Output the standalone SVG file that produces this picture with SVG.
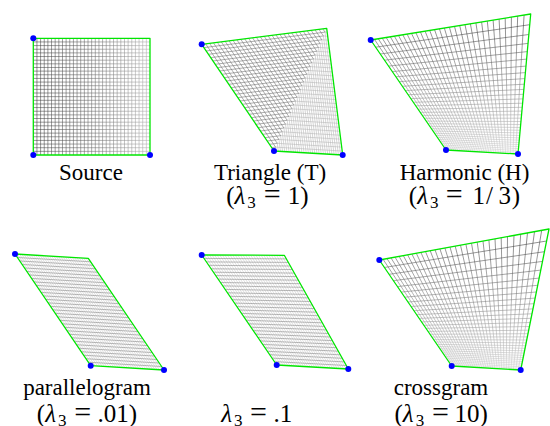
<svg xmlns="http://www.w3.org/2000/svg" xmlns:xlink="http://www.w3.org/1999/xlink" width="550" height="426" viewBox="0 0 550 426">
<style>
.g{fill:none;stroke-width:0.55;vector-effect:non-scaling-stroke}
.edge{fill:none;stroke:#00e600;stroke-width:1.3;stroke-linejoin:round}
.dot{fill:#0000ff}
.lbl{font-size:23px;fill:#000;text-anchor:middle}
.m{font-size:25px;fill:#000;text-anchor:start}
.i{font-style:italic}
.sub{font-size:17px}
.eq{font-size:30px}
</style>
<defs>
<path id="ugU" class="g" d="M1 0V32M2 0V32M3 0V32M4 0V32M5 0V32M6 0V32M7 0V32M8 0V32M9 0V32M10 0V32M11 0V32M12 0V32M13 0V32M14 0V32M15 0V32M16 0V32M17 0V32M18 0V32M19 0V32M20 0V32M21 0V32M22 0V32M23 0V32M24 0V32M25 0V32M26 0V32M27 0V32M28 0V32M29 0V32M30 0V32M31 0V32"/>
<path id="ugV" class="g" d="M0 1H32M0 2H32M0 3H32M0 4H32M0 5H32M0 6H32M0 7H32M0 8H32M0 9H32M0 10H32M0 11H32M0 12H32M0 13H32M0 14H32M0 15H32M0 16H32M0 17H32M0 18H32M0 19H32M0 20H32M0 21H32M0 22H32M0 23H32M0 24H32M0 25H32M0 26H32M0 27H32M0 28H32M0 29H32M0 30H32M0 31H32"/>
<linearGradient id="gSrc" gradientUnits="userSpaceOnUse" x1="0" y1="0" x2="32" y2="0"><stop offset="0" stop-color="#3a3a3a"/><stop offset="0.5" stop-color="#666"/><stop offset="1" stop-color="#b0b0b0"/></linearGradient>
<linearGradient id="gH" gradientUnits="userSpaceOnUse" x1="0" y1="152" x2="0" y2="18"><stop offset="0" stop-color="#d0d0d0"/><stop offset="0.35" stop-color="#999"/><stop offset="1" stop-color="#2a2a2a"/></linearGradient>
<linearGradient id="gC" gradientUnits="userSpaceOnUse" x1="0" y1="368" x2="0" y2="232"><stop offset="0" stop-color="#d0d0d0"/><stop offset="0.35" stop-color="#999"/><stop offset="1" stop-color="#2a2a2a"/></linearGradient>
<clipPath id="t1"><polygon points="274,151 342.7,155 326.7,28.3"/></clipPath>
<clipPath id="t2"><polygon points="274,151 326.7,28.3 201.7,44.3"/></clipPath>
</defs>

<g font-family="'Liberation Serif', Tinos, 'Times New Roman', Times, 'DejaVu Serif', serif">

<g id="source">
<use href="#ugU" xlink:href="#ugU" stroke="url(#gSrc)" transform="matrix(116.7 0 0 -116.7 33.3 155) scale(0.03125)"/>
<use href="#ugV" xlink:href="#ugV" stroke="url(#gSrc)" transform="matrix(116.7 0 0 -116.7 33.3 155) scale(0.03125)"/>
<polygon class="edge" points="33.3,155 150,155 150,38.3 33.3,38.3"/>
<circle class="dot" cx="33.3" cy="38.3" r="3"/><circle class="dot" cx="33.3" cy="155" r="3"/><circle class="dot" cx="150" cy="155" r="3"/>
<text class="lbl" x="91" y="179.5">Source</text>
</g>

<g id="triangle">
<g clip-path="url(#t1)" stroke="#b4b4b4">
<use href="#ugU" xlink:href="#ugU" transform="matrix(68.7 4 -16 -126.7 274 151) scale(0.03125)"/>
<use href="#ugV" xlink:href="#ugV" transform="matrix(68.7 4 -16 -126.7 274 151) scale(0.03125)"/>
</g>
<g clip-path="url(#t2)" stroke="#6a6a6a">
<use href="#ugU" xlink:href="#ugU" transform="matrix(125 -16 -72.3 -106.7 274 151) scale(0.03125)"/>
<use href="#ugV" xlink:href="#ugV" transform="matrix(125 -16 -72.3 -106.7 274 151) scale(0.03125)"/>
</g>
<polygon class="edge" points="274,151 342.7,155 326.7,28.3 201.7,44.3"/>
<circle class="dot" cx="201.7" cy="44.3" r="3"/><circle class="dot" cx="274" cy="151" r="3"/><circle class="dot" cx="342.7" cy="155" r="3"/>
<text class="lbl" x="270" y="179.5">Triangle (T)</text>
<text class="m" x="226.2" y="204">(<tspan class="i">λ</tspan><tspan class="sub" dx="2" dy="4">3</tspan><tspan class="eq" x="263.7" dy="-4">=</tspan><tspan x="287.7">1)</tspan></text>
</g>

<g id="harmonic">
<path class="g" stroke="url(#gH)" d="M448.0 150.1L374.5 39.4M450.0 150.2L378.3 38.8M452.0 150.3L382.2 38.1M454.1 150.4L386.2 37.5M456.2 150.6L390.3 36.8M458.2 150.7L394.4 36.2M460.3 150.8L398.5 35.5M462.4 150.9L402.8 34.8M464.5 151.0L407.1 34.1M466.7 151.1L411.5 33.4M468.8 151.3L415.9 32.7M471.0 151.4L420.4 31.9M473.2 151.5L425.1 31.2M475.4 151.6L429.7 30.4M477.6 151.8L434.5 29.6M479.8 151.9L439.4 28.8M482.1 152.0L444.3 28.0M484.3 152.1L449.4 27.2M486.6 152.3L454.5 26.4M488.9 152.4L459.7 25.5M491.3 152.5L465.0 24.7M493.6 152.6L470.4 23.8M495.9 152.8L475.9 22.9M498.3 152.9L481.6 22.0M500.7 153.0L487.3 21.1M503.1 153.2L493.1 20.1M505.6 153.3L499.1 19.1M508.0 153.4L505.2 18.2M510.5 153.6L511.4 17.1M513.0 153.7L517.7 16.1M515.5 153.9L524.1 15.1M444.9 148.4L518.2 152.3M443.8 146.7L518.3 150.5M442.6 145.0L518.5 148.6M441.4 143.2L518.7 146.6M440.1 141.4L518.9 144.6M438.8 139.5L519.1 142.5M437.4 137.5L519.3 140.2M436.0 135.4L519.5 137.9M434.5 133.3L519.7 135.5M433.0 131.0L519.9 132.9M431.4 128.7L520.2 130.3M429.7 126.3L520.4 127.5M428.0 123.7L520.7 124.5M426.2 121.1L521.0 121.5M424.3 118.3L521.3 118.2M422.3 115.4L521.6 114.8M420.2 112.4L521.9 111.1M418.1 109.2L522.2 107.3M415.8 105.8L522.6 103.2M413.4 102.3L523.0 98.9M410.8 98.6L523.4 94.3M408.2 94.7L523.9 89.4M405.4 90.6L524.3 84.2M402.4 86.3L524.8 78.6M399.2 81.7L525.4 72.6M395.9 76.8L526.0 66.1M392.3 71.6L526.6 59.1M388.6 66.1L527.3 51.6M384.5 60.2L528.0 43.4M380.2 54.0L528.8 34.5M375.6 47.2L529.7 24.7"/>
<polygon class="edge" points="446,150 518,154 530.7,14 370.7,40"/>
<circle class="dot" cx="370.7" cy="40" r="3"/><circle class="dot" cx="446" cy="150" r="3"/><circle class="dot" cx="518" cy="154" r="3"/>
<text class="lbl" x="464.5" y="179.5">Harmonic (H)</text>
<text class="m" x="408.8" y="204">(<tspan class="i">λ</tspan><tspan class="sub" dx="2" dy="4">3</tspan><tspan class="eq" x="445.8" dy="-4">=</tspan><tspan x="472.5">1</tspan><tspan x="486">/</tspan><tspan x="498.5">3</tspan><tspan x="511.7">)</tspan></text>
</g>

<g id="parallelogram">
<use href="#ugU" xlink:href="#ugU" stroke="#c8c8c8" transform="matrix(73.3 4.3 -75.7 -111.7 90.7 365.7) scale(0.03125)"/>
<use href="#ugV" xlink:href="#ugV" stroke="#808080" transform="matrix(73.3 4.3 -75.7 -111.7 90.7 365.7) scale(0.03125)"/>
<polygon class="edge" points="90.7,365.7 164,370 88.3,258.3 15,254"/>
<circle class="dot" cx="15" cy="254" r="3"/><circle class="dot" cx="90.7" cy="365.7" r="3"/><circle class="dot" cx="164" cy="370" r="3"/>
<text class="lbl" x="87" y="394.5">parallelogram</text>
<text class="m" x="36.8" y="421.5">(<tspan class="i">λ</tspan><tspan class="sub" dx="2" dy="4">3</tspan><tspan class="eq" x="74.3" dy="-4">=</tspan><tspan x="97.5">.01)</tspan></text>
</g>

<g id="lambda01">
<path class="g" stroke="#c8c8c8" d="M278.9 365.1L204.3 255.0M281.2 365.3L206.9 255.0M283.4 365.4L209.4 255.0M285.7 365.5L212.0 255.0M287.9 365.6L214.6 255.0M290.1 365.8L217.2 255.1M292.4 365.9L219.8 255.1M294.6 366.0L222.4 255.1M296.8 366.1L224.9 255.1M299.1 366.3L227.5 255.1M301.3 366.4L230.1 255.1M303.6 366.5L232.7 255.1M305.8 366.6L235.3 255.1M308.0 366.8L237.8 255.1M310.3 366.9L240.4 255.1M312.5 367.0L243.0 255.2M314.7 367.1L245.6 255.2M317.0 367.3L248.2 255.2M319.2 367.4L250.7 255.2M321.5 367.5L253.3 255.2M323.7 367.6L255.9 255.2M325.9 367.8L258.5 255.2M328.2 367.9L261.1 255.2M330.4 368.0L263.7 255.2M332.6 368.1L266.2 255.2M334.9 368.3L268.8 255.2M337.1 368.4L271.4 255.3M339.4 368.5L274.0 255.3M341.6 368.6L276.6 255.3M343.8 368.8L279.1 255.3M346.1 368.9L281.7 255.3"/>
<path class="g" stroke="#808080" d="M274.4 361.6L346.3 365.5M272.0 358.1L344.3 361.9M269.7 354.7L342.3 358.3M267.3 351.3L340.3 354.8M265.0 347.8L338.3 351.2M262.6 344.4L336.3 347.7M260.3 340.9L334.3 344.1M258.0 337.5L332.3 340.6M255.6 334.1L330.3 337.0M253.3 330.6L328.3 333.5M250.9 327.2L326.3 329.9M248.6 323.8L324.3 326.4M246.2 320.3L322.3 322.8M243.9 316.9L320.3 319.3M241.5 313.4L318.3 315.7M239.2 310.0L316.3 312.2M236.9 306.6L314.3 308.6M234.5 303.1L312.3 305.0M232.2 299.7L310.3 301.5M229.8 296.3L308.3 297.9M227.5 292.8L306.3 294.4M225.1 289.4L304.3 290.8M222.8 285.9L302.3 287.3M220.5 282.5L300.3 283.7M218.1 279.1L298.3 280.2M215.8 275.6L296.3 276.6M213.4 272.2L294.3 273.1M211.1 268.8L292.3 269.5M208.7 265.3L290.3 266.0M206.4 261.9L288.3 262.4M204.0 258.4L286.3 258.9"/>
<polygon class="edge" points="276.7,365 348.3,369 284.3,255.3 201.7,255"/>
<circle class="dot" cx="201.7" cy="255" r="3"/><circle class="dot" cx="276.7" cy="365" r="3"/><circle class="dot" cx="348.3" cy="369" r="3"/>
<text class="m" x="221.2" y="421.5"><tspan class="i">λ</tspan><tspan class="sub" dx="2" dy="4">3</tspan><tspan class="eq" x="250" dy="-4">=</tspan><tspan x="273.5">.1</tspan></text>
</g>

<g id="crossgram">
<path class="g" stroke="url(#gC)" d="M453.6 366.1L383.1 259.3M455.5 366.2L387.0 258.6M457.4 366.3L391.0 257.9M459.4 366.4L395.0 257.1M461.3 366.6L399.1 256.4M463.3 366.7L403.3 255.6M465.3 366.8L407.6 254.8M467.3 366.9L411.9 254.0M469.3 367.0L416.3 253.2M471.4 367.1L420.9 252.4M473.4 367.3L425.5 251.6M475.5 367.4L430.2 250.7M477.6 367.5L435.0 249.8M479.7 367.6L439.9 248.9M481.8 367.7L444.9 248.0M484.0 367.9L450.0 247.1M486.1 368.0L455.2 246.1M488.3 368.1L460.5 245.2M490.5 368.2L465.9 244.2M492.7 368.4L471.5 243.2M494.9 368.5L477.2 242.1M497.2 368.6L483.0 241.1M499.4 368.8L488.9 240.0M501.7 368.9L495.0 238.9M504.0 369.0L501.2 237.7M506.3 369.2L507.5 236.6M508.7 369.3L514.0 235.4M511.0 369.4L520.7 234.2M513.4 369.6L527.5 232.9M515.8 369.7L534.5 231.7M518.3 369.9L541.7 230.3M450.7 364.6L521.0 368.4M449.7 363.1L521.3 366.8M448.6 361.5L521.7 365.1M447.5 359.9L522.0 363.3M446.4 358.2L522.4 361.5M445.2 356.5L522.8 359.5M444.0 354.7L523.2 357.5M442.7 352.8L523.6 355.4M441.3 350.8L524.1 353.1M439.9 348.8L524.6 350.8M438.5 346.6L525.1 348.3M436.9 344.4L525.6 345.7M435.3 342.0L526.1 342.9M433.6 339.6L526.7 340.0M431.9 337.0L527.3 336.9M430.0 334.3L528.0 333.7M428.1 331.4L528.7 330.2M426.0 328.4L529.4 326.5M423.9 325.3L530.2 322.5M421.6 321.9L531.1 318.3M419.2 318.4L532.0 313.8M416.6 314.7L532.9 308.9M413.9 310.7L534.0 303.7M411.0 306.5L535.1 298.1M408.0 302.0L536.4 292.0M404.7 297.2L537.7 285.3M401.2 292.1L539.2 278.1M397.4 286.6L540.8 270.1M393.4 280.7L542.5 261.4M389.1 274.3L544.4 251.7M384.4 267.5L546.6 241.0"/>
<polygon class="edge" points="451.7,366 520.7,370 549,229 379.3,260"/>
<circle class="dot" cx="379.3" cy="260" r="3"/><circle class="dot" cx="451.7" cy="366" r="3"/><circle class="dot" cx="520.7" cy="370" r="3"/>
<text class="lbl" x="441" y="394.5">crossgram</text>
<text class="m" x="394.5" y="421.5">(<tspan class="i">λ</tspan><tspan class="sub" dx="2" dy="4">3</tspan><tspan class="eq" x="432" dy="-4">=</tspan><tspan x="454.5">10)</tspan></text>
</g>

</g>
<g id="connectors"/>
</svg>
